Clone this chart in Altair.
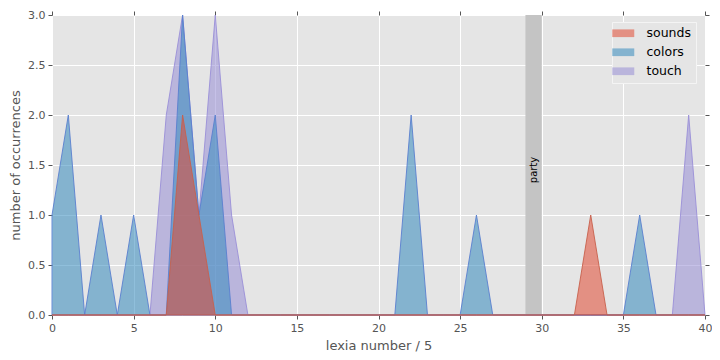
import altair as alt
import pandas as pd

x_vals = list(range(0, 41))
sounds = [0]*41
colors = [0]*41
touch = [0]*41
for k, v in {8: 2, 9: 1, 33: 1}.items():
    sounds[k] = v
for k, v in {0: 1, 1: 2, 3: 1, 5: 1, 8: 3, 9: 1, 10: 2, 22: 2, 26: 1, 36: 1}.items():
    colors[k] = v
for k, v in {7: 2, 8: 3, 9: 1, 10: 3, 11: 1, 39: 2}.items():
    touch[k] = v

series_names = ["sounds", "colors", "touch"]
series_fill = ["#E24A33", "#348ABD", "#988ED5"]
series_stroke = ["#C8604C", "#5A7FCF", "#9A8FD8"]

band_start = [29]
band_end = [30]
band_label = ["party"]
band_label_y = [1.45]

rows = []
for name, vals in zip(series_names, [sounds, colors, touch]):
    for xv, yv in zip(x_vals, vals):
        rows.append({"x": xv, "y": yv, "series": name})
df = pd.DataFrame(rows)

band_df = pd.DataFrame({"x": band_start, "x2": band_end, "label": band_label,
                        "xm": [(a + b) / 2 for a, b in zip(band_start, band_end)],
                        "ly": band_label_y})

xscale = alt.Scale(domain=[0, 40], nice=False, zero=False)
yscale = alt.Scale(domain=[0, 3], nice=False)
xticks = list(range(0, 41, 5))
yticks = [0, 0.5, 1, 1.5, 2, 2.5, 3]

xaxis = alt.Axis(title="lexia number / 5", values=xticks, format="d",
                 grid=True, gridColor="white", gridWidth=1, domain=False,
                 tickColor="#555", tickSize=4, labelColor="#555", labelFontSize=11,
                 titleColor="#555", titleFontSize=13, titleFontWeight="normal",
                 labelPadding=3, titlePadding=6, labelFlush=False)
yaxis = alt.Axis(title="number of occurrences", values=yticks, format=".1f",
                 grid=True, gridColor="white", gridWidth=1, domain=False,
                 tickColor="#555", tickSize=4, labelColor="#555", labelFontSize=11,
                 titleColor="#555", titleFontSize=13, titleFontWeight="normal",
                 labelPadding=3, titlePadding=5, labelFlush=False)

band = alt.Chart(band_df).mark_rect(color="#C4C4C4").encode(
    x=alt.X("x:Q", scale=xscale, axis=xaxis),
    x2="x2:Q",
    y=alt.value(0),
    y2=alt.value(300),
)

legend = alt.Legend(title=None, orient="none", legendX=560, legendY=7,
                    fillColor="#E5E5E5", strokeColor="#F4F4F4",
                    padding=5, labelFontSize=12.5, labelColor="black",
                    symbolType="M-2,-0.7H2V0.7H-2Z", symbolSize=121,
                    symbolOpacity=0.55, symbolStrokeWidth=0,
                    rowPadding=6, labelOffset=17)

def area_layer(name, first):
    return alt.Chart(df).transform_filter(alt.datum.series == name).mark_area(
        fillOpacity=0.55, strokeWidth=1, strokeOpacity=0.9).encode(
        x=alt.X("x:Q", scale=xscale, axis=None),
        y=alt.Y("y:Q", scale=yscale, axis=yaxis if first else None, stack=None),
        fill=alt.Fill("series:N", scale=alt.Scale(domain=series_names, range=series_fill),
                      legend=legend if first else None),
        stroke=alt.Stroke("series:N", scale=alt.Scale(domain=series_names, range=series_stroke),
                          legend=None),
    )

area_touch = area_layer("touch", True)
area_colors = area_layer("colors", False)
area_sounds = area_layer("sounds", False)

label = alt.Chart(band_df).mark_text(angle=270, fontSize=10, color="black", baseline="middle",
                                     align="center", font="DejaVu Sans").encode(
    x=alt.X("xm:Q", scale=xscale, axis=None),
    y=alt.Y("ly:Q", scale=yscale, axis=None),
    text="label:N",
)

top_ticks = alt.Chart(band_df).mark_rect(opacity=0).encode(
    x=alt.X("x:Q", scale=xscale, axis=alt.Axis(orient="top", values=xticks,
                                               labels=False, title=None, grid=False, domain=False,
                                               tickColor="#555", tickSize=4)),
    y=alt.Y("ly:Q", scale=yscale, axis=alt.Axis(orient="right", values=yticks,
                                                labels=False, title=None, grid=False, domain=False,
                                                tickColor="#555", tickSize=4)),
)

chart = alt.layer(band, area_touch, area_colors, area_sounds, label, top_ticks).resolve_axis(
    x="independent", y="independent").properties(
    width=653, height=300,
    autosize=alt.AutoSizeParams(type="none"),
    padding={"left": 44, "top": 7, "right": 7, "bottom": 37},
    background="white",
).configure_view(fill="#E5E5E5", stroke=None).configure_axis(
    labelFont="DejaVu Sans", titleFont="DejaVu Sans"
).configure_legend(labelFont="DejaVu Sans")

chart.save("out.html", embed_options={"renderer": "svg", "actions": False})
